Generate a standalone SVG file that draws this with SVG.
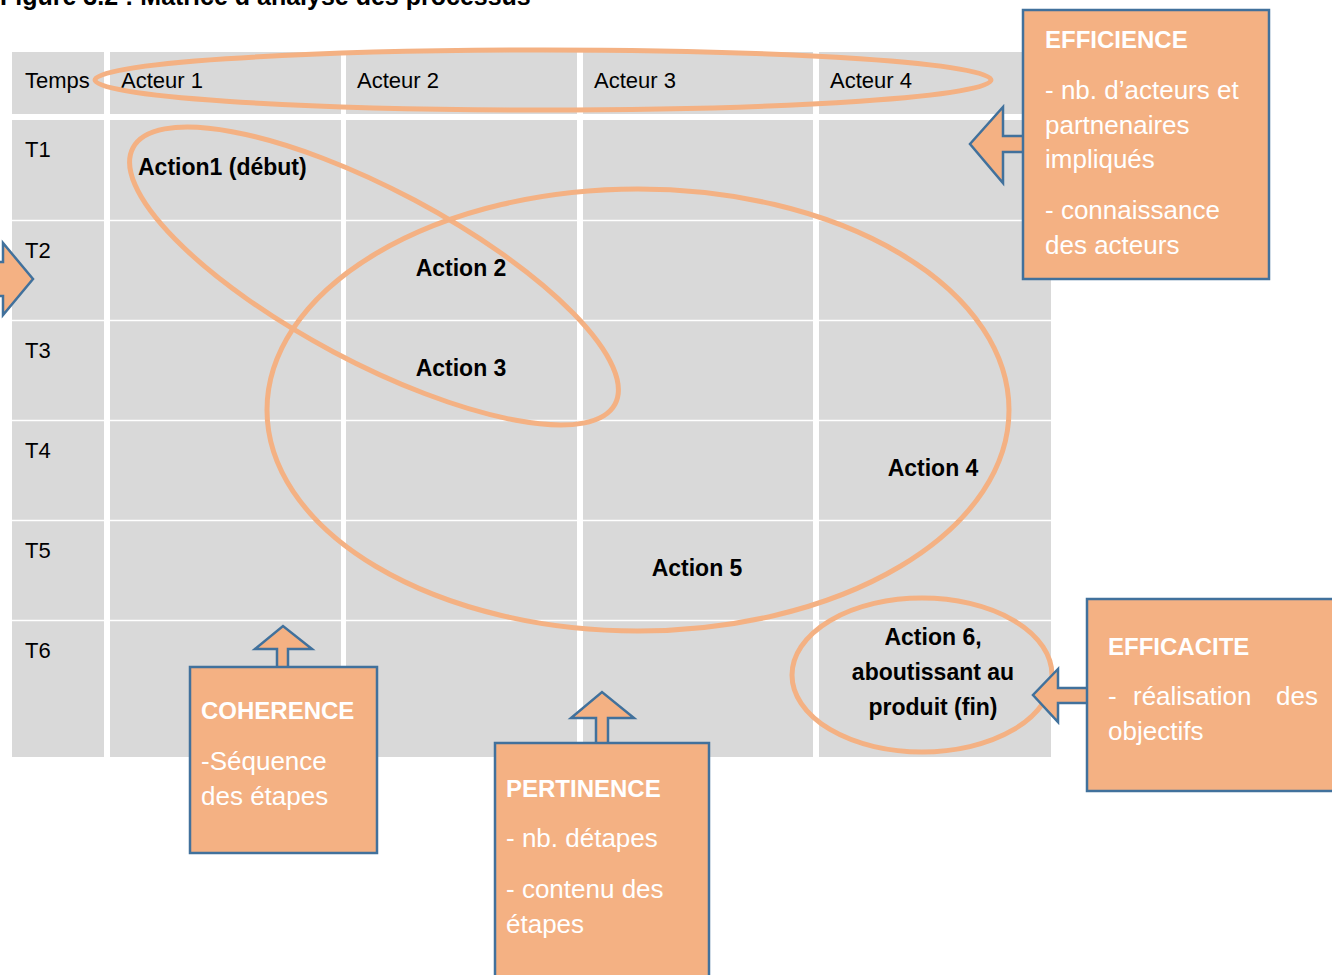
<svg xmlns="http://www.w3.org/2000/svg" width="1332" height="975" viewBox="0 0 1332 975">
<style>
.cell{fill:#D9D9D9}
.sep{stroke:#FFFFFF;stroke-width:1.5}
.hd{font-family:"Liberation Sans",Arial,sans-serif;font-size:22px;fill:#000}
.act{font-family:"Liberation Sans",Arial,sans-serif;font-size:23px;font-weight:bold;fill:#000}
.ring{fill:none;stroke:#F4B183;stroke-width:5}
.box{fill:#F4B183;stroke:#41719C;stroke-width:2.5}
.arr{fill:#F4B183;stroke:#41719C;stroke-width:2.5;stroke-linejoin:miter}
.bt{font-family:"Liberation Sans",Arial,sans-serif;font-size:24px;font-weight:bold;fill:#FFFFFF}
.bb{font-family:"Liberation Sans",Arial,sans-serif;font-size:26px;fill:#FFFFFF}
.title{font-family:"Liberation Sans",Arial,sans-serif;font-size:25px;font-weight:bold;fill:#000}
</style>
<rect width="1332" height="975" fill="#FFFFFF"/>
<text class="title" x="0" y="5">Figure 3.2 : Matrice d’analyse des processus</text>
<g id="table">
  <rect class="cell" x="12" y="52" width="92" height="62"/>
  <rect class="cell" x="110" y="52" width="231" height="62"/>
  <rect class="cell" x="346" y="52" width="231" height="62"/>
  <rect class="cell" x="583" y="52" width="230" height="62"/>
  <rect class="cell" x="819" y="52" width="232" height="62"/>
  <rect class="cell" x="12" y="120" width="92" height="637"/>
  <rect class="cell" x="110" y="120" width="231" height="637"/>
  <rect class="cell" x="346" y="120" width="231" height="637"/>
  <rect class="cell" x="583" y="120" width="230" height="637"/>
  <rect class="cell" x="819" y="120" width="232" height="637"/>
  <line class="sep" x1="12" y1="220.5" x2="1051" y2="220.5"/>
  <line class="sep" x1="12" y1="320.5" x2="1051" y2="320.5"/>
  <line class="sep" x1="12" y1="420.5" x2="1051" y2="420.5"/>
  <line class="sep" x1="12" y1="520.5" x2="1051" y2="520.5"/>
  <line class="sep" x1="12" y1="620.5" x2="1051" y2="620.5"/>
  <text class="hd" x="25" y="88">Temps</text>
  <text class="hd" x="121" y="88">Acteur 1</text>
  <text class="hd" x="357" y="88">Acteur 2</text>
  <text class="hd" x="594" y="88">Acteur 3</text>
  <text class="hd" x="830" y="88">Acteur 4</text>
  <text class="hd" x="25" y="157">T1</text>
  <text class="hd" x="25" y="258">T2</text>
  <text class="hd" x="25" y="358">T3</text>
  <text class="hd" x="25" y="458">T4</text>
  <text class="hd" x="25" y="558">T5</text>
  <text class="hd" x="25" y="658">T6</text>
</g>
<g id="actions">
  <text class="act" x="138" y="175">Action1 (début)</text>
  <text class="act" x="461" y="276" text-anchor="middle">Action 2</text>
  <text class="act" x="461" y="376" text-anchor="middle">Action 3</text>
  <text class="act" x="933" y="476" text-anchor="middle">Action 4</text>
  <text class="act" x="697" y="576" text-anchor="middle">Action 5</text>
  <text class="act" x="933" y="645" text-anchor="middle">Action 6,</text>
  <text class="act" x="933" y="680" text-anchor="middle">aboutissant au</text>
  <text class="act" x="933" y="715" text-anchor="middle">produit (fin)</text>
</g>
<g id="highlights">
  <ellipse class="ring" cx="543" cy="80" rx="448" ry="30"/>
  <ellipse class="ring" cx="374" cy="276" rx="273" ry="86" transform="rotate(28 374 276)"/>
  <ellipse class="ring" cx="638" cy="410" rx="371" ry="221"/>
  <ellipse class="ring" cx="922" cy="675" rx="130" ry="77"/>
</g>
<g id="connectors">
  <polygon class="arr" points="1024,136 1003,136 1003,107 970,144 1003,183 1003,152 1024,152"/>
  <polygon class="arr" points="-20,262 3,262 3,243 33,279 3,315 3,296 -20,296"/>
  <polygon class="arr" points="277,668 277,649 255,649 283,626 312,649 288,649 288,668"/>
  <polygon class="arr" points="596,744 596,718 571,718 602,692 634,718 608,718 608,744"/>
  <polygon class="arr" points="1088,688 1058,688 1058,669 1033,695 1058,722 1058,703 1088,703"/>
</g>
<g id="efficience">
  <rect class="box" x="1023" y="10" width="246" height="269"/>
  <text class="bt" x="1045" y="48">EFFICIENCE</text>
  <text class="bb" x="1045" y="99">- nb. d’acteurs et</text>
  <text class="bb" x="1045" y="134">partnenaires</text>
  <text class="bb" x="1045" y="168">impliqués</text>
  <text class="bb" x="1045" y="219">- connaissance</text>
  <text class="bb" x="1045" y="254">des acteurs</text>
</g>
<g id="coherence">
  <rect class="box" x="190" y="667" width="187" height="186"/>
  <text class="bt" x="201" y="719">COHERENCE</text>
  <text class="bb" x="201" y="770">-Séquence</text>
  <text class="bb" x="201" y="805">des étapes</text>
</g>
<g id="pertinence">
  <rect class="box" x="495" y="743" width="214" height="245"/>
  <text class="bt" x="506" y="797">PERTINENCE</text>
  <text class="bb" x="506" y="847">- nb. détapes</text>
  <text class="bb" x="506" y="898">- contenu des</text>
  <text class="bb" x="506" y="933">étapes</text>
</g>
<g id="efficacite">
  <rect class="box" x="1087" y="599" width="260" height="192"/>
  <text class="bt" x="1108" y="655">EFFICACITE</text>
  <text class="bb" x="1108" y="705">-</text>
  <text class="bb" x="1133" y="705">réalisation</text>
  <text class="bb" x="1276" y="705">des</text>
  <text class="bb" x="1108" y="740">objectifs</text>
</g>
</svg>
